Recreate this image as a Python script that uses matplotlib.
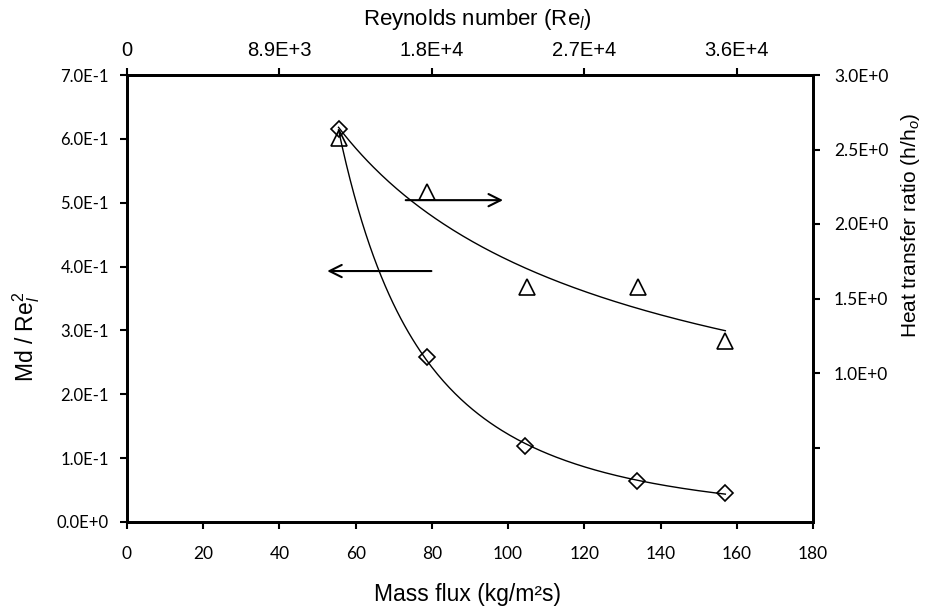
import numpy as np
import matplotlib
matplotlib.use("Agg")
import matplotlib.pyplot as plt

plt.rcParams["mathtext.fontset"] = "custom"
plt.rcParams["mathtext.rm"] = "Liberation Sans"
plt.rcParams["mathtext.it"] = "Liberation Sans:italic"

# ---- data ----
mass_flux = [55.5, 78.6, 104.5, 133.9, 157.0]
md_re2 = [0.615, 0.259, 0.119, 0.064, 0.045]
mass_flux_h = [55.5, 78.6, 104.9, 134.1, 157.0]
heat_ratio = [2.577, 2.217, 1.575, 1.575, 1.215]

x_ticks = [0, 20, 40, 60, 80, 100, 120, 140, 160, 180]
left_ticks = [0.0, 0.1, 0.2, 0.3, 0.4, 0.5, 0.6, 0.7]
left_labels = ["0.0E+0", "1.0E-1", "2.0E-1", "3.0E-1", "4.0E-1", "5.0E-1", "6.0E-1", "7.0E-1"]
right_ticks = [0.5, 1.0, 1.5, 2.0, 2.5, 3.0]
right_labels = ["", "1.0E+0", "1.5E+0", "2.0E+0", "2.5E+0", "3.0E+0"]
top_ticks = [0, 40, 80, 120, 160]
top_labels = ["0", "8.9E+3", "1.8E+4", "2.7E+4", "3.6E+4"]

tick_font = "Lato"
label_font = "Liberation Sans"

W, H = 927, 613
fig = plt.figure(figsize=(W/100, H/100), dpi=100)
L, R, T, B = 127, 813, 75, 522
ax = fig.add_axes([L/W, 1-B/H, (R-L)/W, (B-T)/H])
ax2 = ax.twinx()

# power-law trendlines (fit to the plotted points)
def power_fit(x, y):
    b, a = np.polyfit(np.log(x), np.log(y), 1)
    xs = np.linspace(min(x), max(x), 200)
    return xs, np.exp(a) * xs ** b

xs, ys = power_fit(mass_flux, md_re2)
ax.plot(xs, ys, color="black", lw=1.0)
ax.plot(mass_flux, md_re2, linestyle="none", marker="D", markersize=8.5,
        markerfacecolor="none", markeredgecolor="black", markeredgewidth=1.2)

xs2, ys2 = power_fit(mass_flux_h, heat_ratio)
ax2.plot(xs2, ys2, color="black", lw=1.0)
ax2.plot(mass_flux_h, heat_ratio, linestyle="none", marker="^", markersize=11,
         markerfacecolor="none", markeredgecolor="black", markeredgewidth=1.2)

# arrows
ax.annotate("", xy=(99.4, 0.504), xytext=(72.4, 0.504),
            arrowprops=dict(arrowstyle="->", lw=1.5, color="black", mutation_scale=22))
ax.annotate("", xy=(51.8, 0.393), xytext=(80.6, 0.393),
            arrowprops=dict(arrowstyle="->", lw=1.5, color="black", mutation_scale=22))

ax.set_xlim(0, 180)
ax.set_ylim(0, 0.7)
ax2.set_ylim(0, 3.0)

ax.set_xticks(x_ticks)
ax.set_xticklabels([str(t) for t in x_ticks], fontfamily=tick_font, fontsize=12.5)
ax.set_yticks(left_ticks)
ax.set_yticklabels(left_labels, fontfamily=tick_font, fontsize=12)
ax2.set_yticks(right_ticks)
ax2.set_yticklabels(right_labels, fontfamily=tick_font, fontsize=12.5)

top = ax.secondary_xaxis("top")
top.set_xticks(top_ticks)
top.set_xticklabels(top_labels, fontfamily=label_font, fontsize=14.5)
top.tick_params(direction="out", length=5, width=1.5, pad=6)
top.spines["top"].set_linewidth(2)

for a in (ax, ax2):
    for s in a.spines.values():
        s.set_linewidth(2)
ax.tick_params(axis="y", direction="out", length=5, width=1.5, pad=8)
ax.tick_params(axis="x", direction="out", length=5, width=1.5, pad=12)
ax2.tick_params(direction="out", length=5, width=1.5, pad=10)

def place(axis, px, py):
    axis.label.set_verticalalignment("center")
    axis.label.set_horizontalalignment("center")
    axis.set_label_coords(px / W, 1 - py / H, transform=fig.transFigure)

ax.set_xlabel("Mass flux (kg/m\u00b2s)", fontfamily=label_font, fontsize=16.5)
place(ax.xaxis, 468, 594)
ax.set_ylabel("Md / Re$_l^2$", fontfamily=label_font, fontsize=16.5)
place(ax.yaxis, 26, 337)
ax2.set_ylabel("Heat transfer ratio (h/h$_o$)", fontfamily=label_font, fontsize=15)
place(ax2.yaxis, 910, 225)
top.set_xlabel("Reynolds number (Re$_l$)", fontfamily=label_font, fontsize=16)
place(top.xaxis, 477, 20)

fig.savefig("out.png", dpi=100)
